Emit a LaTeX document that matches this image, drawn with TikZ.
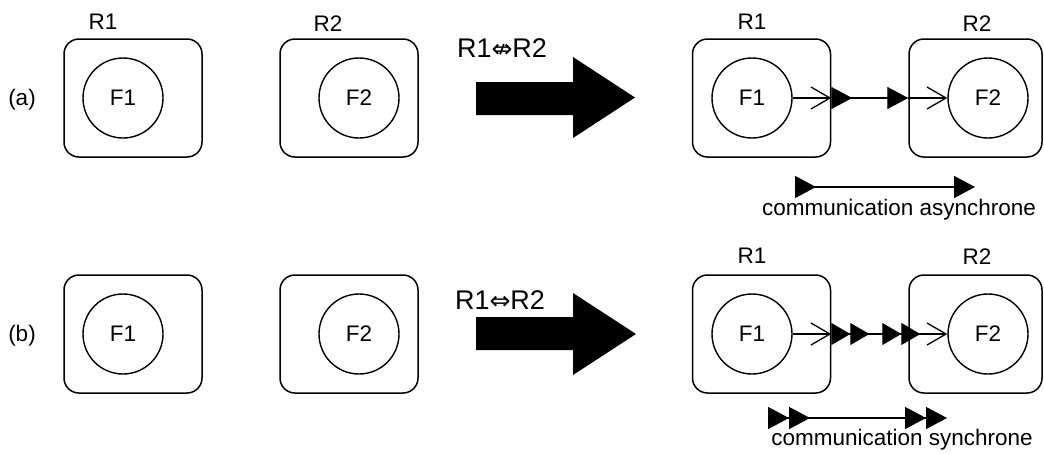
\documentclass[tikz,border=0pt]{standalone}
\usepackage{fontspec}
\setmainfont{Liberation Sans}
\newfontfamily\symfont{DejaVu Sans}
\usetikzlibrary{arrows.meta}
\tikzset{
  blk/.tip={Triangle[length=21pt,width=22pt,sep=0pt]},
  rblk/.tip={Triangle[length=21pt,width=22pt,sep=0pt,reversed]},
  sblk/.tip={Triangle[length=19pt,width=22pt,sep=0pt]},
  rsblk/.tip={Triangle[length=19pt,width=22pt,sep=0pt,reversed]},
  opn/.tip={Straight Barb[length=19pt,width=22pt]},
  rbox/.style={draw, line width=1.5pt, rounded corners=15pt, minimum width=138pt, minimum height=118pt, inner sep=0pt},
  fn/.style={draw, circle, line width=1.4pt, minimum size=80pt, inner sep=0pt, font=\fontsize{22.5}{26}\selectfont},
  lbl/.style={anchor=base, inner sep=0pt, font=\fontsize{22.5}{26}\selectfont},
  big/.style={anchor=base, inner sep=0pt, font=\fontsize{27}{31}\selectfont},
  conn/.style={line width=1.3pt},
  bigarrow/.style={fill=black}
}
\begin{document}
\begin{tikzpicture}[x=1pt,y=-1pt]
\useasboundingbox (0,0) rectangle (1044,453);
% ---------- row (a) ----------
\node[lbl] (pa) at (22,105) {(a)};
\node[rbox] (ra1) at (133,98) {};
\node[fn] (fa1) at (123,98) {F1};
\node[rbox] (ra2) at (349,98) {};
\node[fn] (fa2) at (359,98) {F2};
\node[lbl] (la1) at (103,29) {R1};
\node[lbl] (la2) at (328,31) {R2};
\node[big] (ta) at (502,57) {R1{\symfont\fontsize{25}{28}\selectfont ⇎}R2};
\fill[bigarrow] (476,82) -- (573,82) -- (573,57) -- (635,97.5) -- (573,138) -- (573,115) -- (476,115) -- cycle;
\node[rbox] (rA1) at (761.5,98) {};
\node[fn] (fA1) at (752,98) {F1};
\node[rbox, minimum width=133pt] (rA2) at (975.5,98) {};
\node[fn] (fA2) at (988,98) {F2};
\node[lbl] (lA1) at (752,29) {R1};
\node[lbl] (lA2) at (977,31) {R2};
\draw[conn,-{opn}] (fA1.east) -- (rA1.east);
\draw[conn,{rblk}-{blk}] (rA1.east) -- (rA2.west);
\draw[conn,-{opn}] (rA2.west) -- (fA2.west);
\coordinate (ka1) at (795,187);
\coordinate (ka2) at (975,187);
\draw[conn,{rblk}-{blk}] (ka1) -- (ka2);
\node[lbl] (ca) at (899,215) {communication asynchrone};
% ---------- row (b) ----------
\node[lbl] (pb) at (22,341) {(b)};
\node[rbox] (rb1) at (133,334) {};
\node[fn] (fb1) at (123,334) {F1};
\node[rbox] (rb2) at (349,334) {};
\node[fn] (fb2) at (359,334) {F2};
\node[big] (tb) at (500,309) {R1{\symfont\fontsize{25}{28}\selectfont ⇔}R2};
\fill[bigarrow] (476,317) -- (573,317) -- (573,293) -- (636,334) -- (573,375) -- (573,350) -- (476,350) -- cycle;
\node[rbox] (rB1) at (761.5,334) {};
\node[fn] (fB1) at (752,334) {F1};
\node[rbox, minimum width=133pt] (rB2) at (975.5,334) {};
\node[fn] (fB2) at (988,334) {F2};
\node[lbl] (lB1) at (752,263) {R1};
\node[lbl] (lB2) at (977,264) {R2};
\draw[conn,-{opn}] (fB1.east) -- (rB1.east);
\draw[conn,{rsblk[]rsblk[]}-{sblk[]sblk[]},shorten >=-12pt] (rB1.east) -- (rB2.west);
\draw[conn,-{opn}] (rB2.west) -- (fB2.west);
\coordinate (kb1) at (768,418);
\coordinate (kb2) at (947,418);
\draw[conn,{rblk[]rblk[]}-{blk[]blk[]}] (kb1) -- (kb2);
\node[lbl] (cb) at (902,445) {communication synchrone};
\end{tikzpicture}
\end{document}
